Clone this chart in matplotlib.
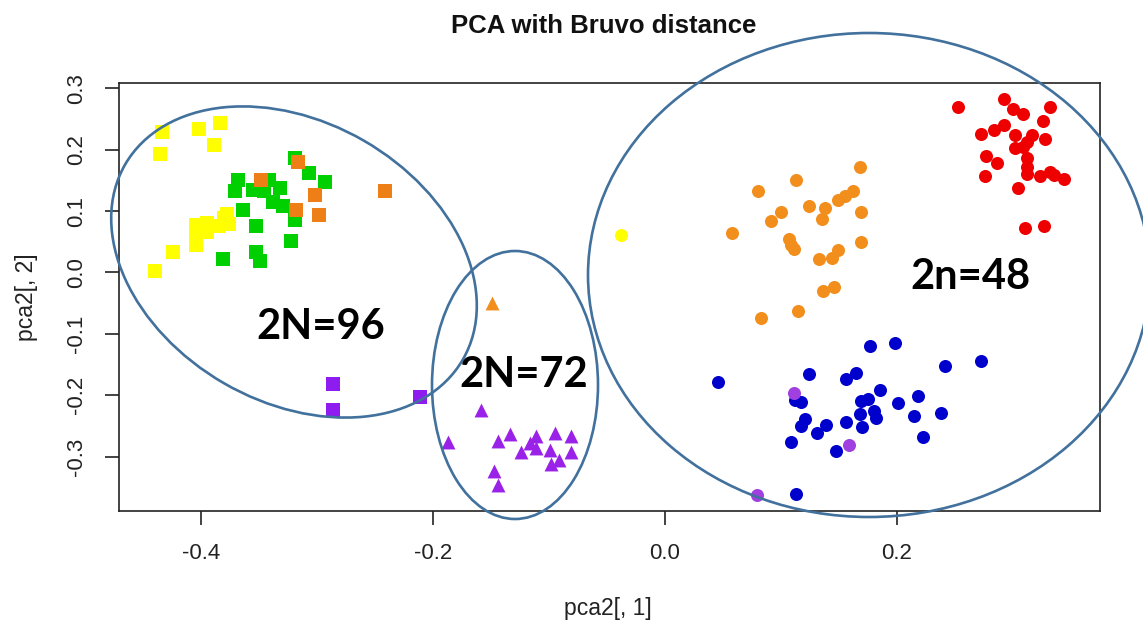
import matplotlib
matplotlib.use("Agg")
import matplotlib.pyplot as plt
from matplotlib.patches import Ellipse
from matplotlib.transforms import Affine2D

# squares (pch 15)
yellow_sq_x = [-0.434, -0.435, -0.402, -0.384, -0.389, -0.424, -0.440, -0.378, -0.376,
               -0.385, -0.395, -0.404, -0.404, -0.404, -0.395, -0.380]
yellow_sq_y = [0.229, 0.193, 0.233, 0.243, 0.208, 0.033, 0.003, 0.096, 0.079,
               0.076, 0.080, 0.077, 0.061, 0.045, 0.066, 0.088]
green_sq_x = [-0.319, -0.307, -0.293, -0.368, -0.371, -0.341, -0.332, -0.338, -0.329,
              -0.355, -0.346, -0.364, -0.353, -0.319, -0.322, -0.381, -0.353, -0.349]
green_sq_y = [0.186, 0.162, 0.147, 0.151, 0.132, 0.151, 0.137, 0.115, 0.108,
              0.134, 0.132, 0.102, 0.076, 0.086, 0.052, 0.022, 0.034, 0.018]
orange_sq_x = [-0.316, -0.348, -0.302, -0.318, -0.298, -0.241]
orange_sq_y = [0.180, 0.150, 0.126, 0.101, 0.094, 0.133]
purple_sq_x = [-0.286, -0.286, -0.211]
purple_sq_y = [-0.182, -0.224, -0.203]

# triangles (pch 17)
orange_tri_x = [-0.149]
orange_tri_y = [-0.049]
purple_tri_x = [-0.159, -0.187, -0.144, -0.134, -0.124, -0.116, -0.111, -0.111, -0.099,
                -0.095, -0.081, -0.081, -0.091, -0.098, -0.147, -0.144]
purple_tri_y = [-0.224, -0.276, -0.274, -0.263, -0.293, -0.278, -0.267, -0.286, -0.289,
                -0.262, -0.266, -0.292, -0.305, -0.312, -0.323, -0.346]

# circles (pch 16)
yellow_ci_x = [-0.038]
yellow_ci_y = [0.061]
orange_ci_x = [0.168, 0.113, 0.080, 0.162, 0.155, 0.149, 0.124, 0.138, 0.135, 0.100,
               0.091, 0.169, 0.058, 0.107, 0.109, 0.111, 0.169, 0.149, 0.144, 0.133,
               0.146, 0.136, 0.115, 0.083]
orange_ci_y = [0.171, 0.150, 0.133, 0.133, 0.125, 0.118, 0.109, 0.105, 0.087, 0.099,
               0.084, 0.099, 0.065, 0.054, 0.045, 0.038, 0.049, 0.036, 0.023, 0.022,
               -0.023, -0.030, -0.063, -0.074]
red_ci_x = [0.253, 0.292, 0.300, 0.309, 0.332, 0.326, 0.272, 0.284, 0.292, 0.302,
            0.316, 0.328, 0.312, 0.302, 0.309, 0.277, 0.286, 0.312, 0.312, 0.276,
            0.312, 0.323, 0.332, 0.335, 0.344, 0.304, 0.310, 0.327]
red_ci_y = [0.269, 0.282, 0.266, 0.258, 0.269, 0.247, 0.226, 0.232, 0.240, 0.224,
            0.224, 0.217, 0.213, 0.203, 0.205, 0.189, 0.178, 0.186, 0.172, 0.157,
            0.160, 0.157, 0.164, 0.158, 0.153, 0.137, 0.073, 0.075]
blue_ci_x = [0.046, 0.124, 0.177, 0.198, 0.241, 0.272, 0.156, 0.165, 0.185, 0.112,
             0.117, 0.169, 0.175, 0.201, 0.218, 0.238, 0.215, 0.168, 0.180, 0.182,
             0.121, 0.117, 0.139, 0.156, 0.170, 0.131, 0.109, 0.222, 0.147, 0.113]
blue_ci_y = [-0.178, -0.165, -0.119, -0.115, -0.153, -0.144, -0.173, -0.163, -0.192, -0.208,
             -0.211, -0.210, -0.206, -0.213, -0.201, -0.229, -0.233, -0.230, -0.225, -0.237,
             -0.239, -0.250, -0.249, -0.244, -0.252, -0.262, -0.276, -0.268, -0.290, -0.360]
purple_ci_x = [0.111, 0.159, 0.079]
purple_ci_y = [-0.197, -0.281, -0.362]

x_ticks = [-0.4, -0.2, 0.0, 0.2]
y_ticks = [-0.3, -0.2, -0.1, 0.0, 0.1, 0.2, 0.3]

# group annotations: (label, centre, width, height, angle, text pos) in picture pixels
groups = [
    ("2N=96", (294, 262), 390, 280, 30, (321, 327)),
    ("2N=72", (515, 385), 166, 268, 0, (524, 375)),
    ("2n=48", (869, 275), 562, 484, 0, (970, 277)),
]

W, H, DPI = 1143, 622, 100
fig = plt.figure(figsize=(W / DPI, H / DPI), dpi=DPI)
ax = fig.add_axes([119 / W, 1 - 511 / H, (1100 - 119) / W, (511 - 83) / H])

ms = 88
ax.scatter(yellow_sq_x, yellow_sq_y, s=ms, marker="s", color="#FFFF00", linewidths=0)
ax.scatter(green_sq_x, green_sq_y, s=ms, marker="s", color="#00D000", linewidths=0)
ax.scatter(orange_sq_x, orange_sq_y, s=ms, marker="s", color="#EE7F16", linewidths=0)
ax.scatter(purple_sq_x, purple_sq_y, s=ms, marker="s", color="#8E1BEF", linewidths=0)
ax.scatter(orange_tri_x, orange_tri_y, s=100, marker="^", color="#F28E1C", linewidths=0)
ax.scatter(purple_tri_x, purple_tri_y, s=100, marker="^", color="#9A22E8", linewidths=0)
ax.scatter(yellow_ci_x, yellow_ci_y, s=ms, marker="o", color="#FFFF00", linewidths=0)
ax.scatter(orange_ci_x, orange_ci_y, s=ms, marker="o", color="#F28E1C", linewidths=0)
ax.scatter(red_ci_x, red_ci_y, s=ms, marker="o", color="#EE0000", linewidths=0)
ax.scatter(blue_ci_x, blue_ci_y, s=ms, marker="o", color="#0000CD", linewidths=0)
ax.scatter(purple_ci_x, purple_ci_y, s=ms, marker="o", color="#A040E0", linewidths=0)

ax.set_xlim(-0.4707, 0.375)
ax.set_ylim(-0.3884, 0.3086)
ax.set_xticks(x_ticks)
ax.set_xticklabels(["%.1f" % v for v in x_ticks])
ax.set_yticks(y_ticks)
ax.set_yticklabels(["%.1f" % v for v in y_ticks], rotation=90, va="center")

rfont = "Liberation Sans"
for lab in ax.get_xticklabels() + ax.get_yticklabels():
    lab.set_family(rfont)
    lab.set_color("#222222")
ax.tick_params(length=10, width=1.2, labelsize=16, pad=13, color="#222222")
for sp in ax.spines.values():
    sp.set_linewidth(1.2)
    sp.set_color("#222222")

# pixel coordinates, origin at the top left of the picture
px = Affine2D().scale(1 / DPI, -1 / DPI).translate(0, H / DPI) + fig.dpi_scale_trans

fig.text(604, 26, "PCA with Bruvo distance", transform=px, ha="center", va="center",
         family=rfont, fontweight="bold", fontsize=18.5, color="#111111")
fig.text(608, 609, "pca2[, 1]", transform=px, ha="center", va="center",
         family=rfont, fontsize=16.5, color="#222222")
fig.text(26, 297, "pca2[, 2]", transform=px, ha="center", va="center", rotation=90,
         family=rfont, fontsize=16.5, color="#222222")

for label, centre, w, h, ang, pos in groups:
    fig.add_artist(Ellipse(centre, w, h, angle=ang, transform=px, fill=False,
                           edgecolor="#41719C", linewidth=1.9, clip_on=False))
    fig.text(pos[0], pos[1], label, transform=px, ha="center", va="center",
             family="Lato", fontweight="bold", fontsize=30, color="black")

fig.savefig("out.png", dpi=DPI)
